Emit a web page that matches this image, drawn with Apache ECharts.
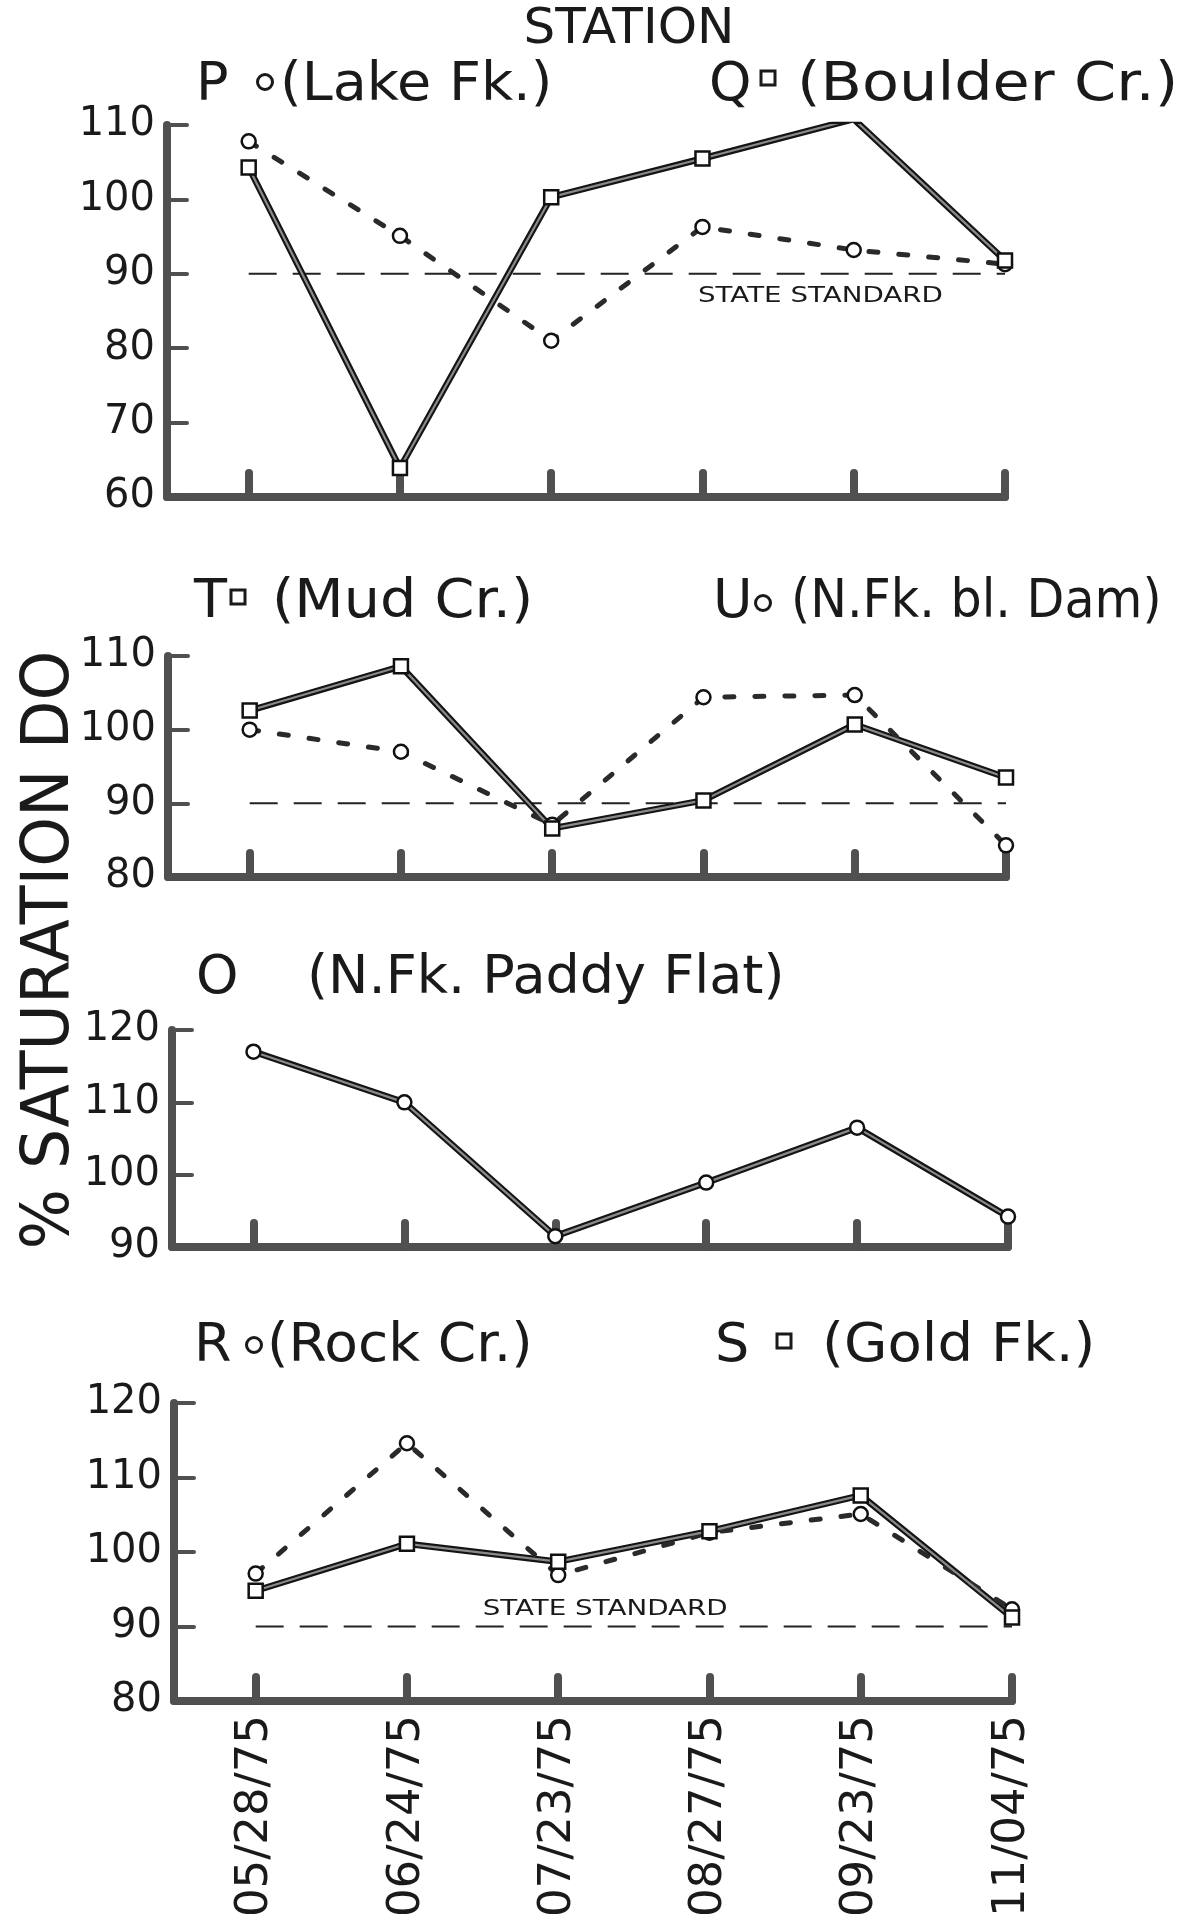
<!DOCTYPE html>
<html>
<head>
<meta charset="utf-8">
<script src="https://cdn.jsdelivr.net/npm/echarts@6/dist/echarts.min.js"></script>
<style>
  html, body { margin: 0; padding: 0; background: #fff; }
  #chart { width: 1178px; height: 1925px; }
</style>
</head>
<body>
<div id="chart"></div>
<script>
// Sampling dates shared by every station
const dates = ['05/28/75', '06/24/75', '07/23/75', '08/27/75', '09/23/75', '11/04/75'];

// % saturation of dissolved oxygen, one array per station
const lakeFkP     = [107.8, 95.1, 81.0, 96.3, 93.2, 91.3];
const boulderCrQ  = [104.3, 63.9, 100.3, 105.5, 110.8, 91.8];
const mudCrT      = [102.6, 108.6, 86.6, 90.4, 100.7, 93.5];
const nfkBlDamU   = [100.0, 97.0, 87.1, 104.4, 104.7, 84.3];
const paddyFlatO  = [117.0, 110.0, 91.5, 98.9, 106.5, 94.2];
const rockCrR     = [97.1, 114.6, 96.9, 102.6, 105.1, 92.3];
const goldFkS     = [94.8, 101.1, 98.7, 102.8, 107.6, 91.2];

// State standard for % saturation
const stateStandard = 90;

const FONT = '"DejaVu Sans", sans-serif';
const INK = '#1a1a1a';
const AXIS = '#505050';
const tickIdx = dates.map((d, i) => i);

// One panel per group of stations
const panels = [
  { grid: { left: 167, top: 125, width: 838, height: 372 }, yMin: 60, yMax: 110, standard: true,
    lines: [ { data: lakeFkP, solid: false, symbol: 'circle' },
             { data: boulderCrQ, solid: true, symbol: 'rect' } ] },
  { grid: { left: 168, top: 656, width: 838, height: 221 }, yMin: 80, yMax: 110, standard: true,
    lines: [ { data: nfkBlDamU, solid: false, symbol: 'circle' },
             { data: mudCrT, solid: true, symbol: 'rect' } ] },
  { grid: { left: 172, top: 1030, width: 836, height: 217 }, yMin: 90, yMax: 120, standard: false,
    lines: [ { data: paddyFlatO, solid: true, symbol: 'circle' } ] },
  { grid: { left: 174, top: 1403, width: 838, height: 298 }, yMin: 80, yMax: 120, standard: true,
    lines: [ { data: goldFkS, solid: true, symbol: 'rect' },
             { data: rockCrR, solid: false, symbol: 'circle' } ] }
];

const grids = [], xAxes = [], yAxes = [], series = [];

panels.forEach((p, i) => {
  grids.push(Object.assign({ outerBoundsMode: 'none', containLabel: false }, p.grid));
  xAxes.push({
    type: 'value', gridIndex: i, min: -0.54, max: dates.length - 1,
    axisLine: { show: true, onZero: false, lineStyle: { color: AXIS, width: 8, cap: 'round' } },
    axisTick: { show: true, inside: true, length: 24, customValues: tickIdx,
                lineStyle: { color: AXIS, width: 8, cap: 'round' } },
    axisLabel: { show: i === panels.length - 1, customValues: tickIdx, rotate: 90, margin: 14,
                 formatter: v => dates[Math.round(v)], fontSize: 45, fontFamily: FONT, color: INK },
    splitLine: { show: false }
  });
  yAxes.push({
    type: 'value', gridIndex: i, min: p.yMin, max: p.yMax, interval: 10,
    axisLine: { show: true, onZero: false, lineStyle: { color: AXIS, width: 8, cap: 'round' } },
    axisTick: { show: true, inside: true, length: 20, lineStyle: { color: AXIS, width: 4, cap: 'round' } },
    axisLabel: { margin: 12, fontSize: 40, fontFamily: FONT, color: INK, padding: [7, 0, 0, 0] },
    splitLine: { show: false }
  });

  if (p.standard) {
    series.push({
      type: 'line', xAxisIndex: i, yAxisIndex: i, silent: true, symbol: 'none', z: 2,
      data: [[0, stateStandard], [dates.length - 1, stateStandard]],
      lineStyle: { color: '#222', width: 2, type: [28, 16] }
    });
  }

  p.lines.forEach(l => {
    const pts = l.data.map((v, k) => [k, v]);
    const marker = { color: '#fff', borderColor: '#111', borderWidth: 2.5 };
    if (l.solid) {
      // dark outline under a lighter core gives the double-stroked line
      series.push({
        type: 'line', xAxisIndex: i, yAxisIndex: i, silent: true, symbol: 'none', z: 3, data: pts,
        lineStyle: { color: '#141414', width: 6.5, cap: 'round', join: 'round' }
      });
      series.push({
        type: 'line', xAxisIndex: i, yAxisIndex: i, data: pts, z: 5,
        symbol: l.symbol, symbolSize: 14, itemStyle: marker,
        lineStyle: { color: '#8a8a8a', width: 2.2, cap: 'round', join: 'round' }
      });
    } else {
      series.push({
        type: 'line', xAxisIndex: i, yAxisIndex: i, data: pts, z: 4,
        symbol: l.symbol, symbolSize: 14, itemStyle: marker,
        lineStyle: { color: '#2a2a2a', width: 5, type: [9, 21], cap: 'round' }
      });
    }
  });
});

const chart = echarts.init(document.getElementById('chart'), null, { renderer: 'canvas' });
chart.setOption({
  animation: false,
  backgroundColor: '#fff',
  grid: grids, xAxis: xAxes, yAxis: yAxes, series: series
});

// Titles, station keys and the axis name
const T = (x, y, text, size, sx) => ({
  type: 'text', x: x, y: y, scaleX: sx || 1, silent: true,
  style: { text: text, font: size + 'px ' + FONT, fill: INK, align: 'left', verticalAlign: 'middle' }
});
const keyCircle = (cx, cy) => ({ type: 'circle', silent: true, shape: { cx: cx, cy: cy, r: 7.5 },
  style: { fill: '#fff', stroke: INK, lineWidth: 3 } });
const keySquare = (cx, cy) => ({ type: 'rect', silent: true, shape: { x: cx - 7, y: cy - 7, width: 14, height: 14 },
  style: { fill: '#fff', stroke: INK, lineWidth: 3 } });

const graphics = [
  { type: 'text', x: 629, y: 30, silent: true,
    style: { text: 'STATION', font: '50px ' + FONT, fill: INK, align: 'center', verticalAlign: 'middle' } },

  T(196, 86, 'P', 54), keyCircle(265, 82), T(280, 86, '(Lake Fk.)', 54, 1.03),
  T(709, 86, 'Q', 54), keySquare(768, 78), T(797, 86, '(Boulder Cr.)', 54, 1.12),

  T(194, 603, 'T', 54), keySquare(238, 597), T(272, 603, '(Mud Cr.)', 54, 1.06),
  T(713, 603, 'U', 54), keyCircle(763, 603), T(791, 603, '(N.Fk. bl. Dam)', 54, 0.91),

  T(196, 979, 'O', 54), T(307, 979, '(N.Fk. Paddy Flat)', 54),

  T(194, 1347, 'R', 54), keyCircle(254, 1345), T(267, 1347, '(Rock Cr.)', 54, 1.02),
  T(715, 1347, 'S', 54), keySquare(784, 1341), T(822, 1347, '(Gold Fk.)', 54, 1.04),

  { type: 'text', x: 51, y: 950, rotation: Math.PI / 2, scaleX: 0.96, silent: true,
    style: { text: '% SATURATION DO', font: '66px ' + FONT, fill: INK, align: 'center', verticalAlign: 'middle' } }
];

// "STATE STANDARD" notes placed in data space of their panels
const noteStyle = { text: 'STATE STANDARD', font: '22px ' + FONT, fill: INK, align: 'center', verticalAlign: 'middle' };
const p1 = chart.convertToPixel({ gridIndex: 0 }, [3.78, stateStandard]);
const p4 = chart.convertToPixel({ gridIndex: 3 }, [2.31, stateStandard]);
graphics.push({ type: 'text', x: p1[0], y: p1[1] + 22, scaleX: 1.26, silent: true, style: noteStyle });
graphics.push({ type: 'text', x: p4[0], y: p4[1] - 17, scaleX: 1.26, silent: true, style: noteStyle });

chart.setOption({ graphic: graphics });
</script>
</body>
</html>
